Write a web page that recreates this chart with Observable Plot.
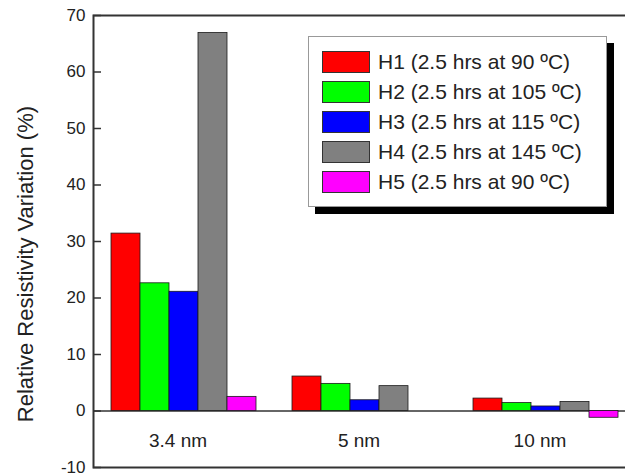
<!DOCTYPE html>
<html>
<head>
<meta charset="utf-8">
<script src="https://cdn.jsdelivr.net/npm/d3@7"></script>
<script src="https://cdn.jsdelivr.net/npm/@observablehq/plot@0.6"></script>
<style>
  html, body { margin: 0; padding: 0; background: #fff; overflow: hidden; width: 625px; height: 476px; }
  #wrap { position: relative; width: 625px; height: 476px; overflow: hidden; font-family: "Liberation Sans", Arial, sans-serif; }
  #legend { position: absolute; left: 308px; top: 36px; width: 297px; height: 169px; border: 1px solid #999; background: #fff; box-shadow: 7px 7px 0 #000; }
  .row { position: absolute; left: 13px; height: 22px; display: flex; align-items: center; }
  .sw { width: 46px; height: 20px; border: 1px solid #333; margin-right: 8px; }
  .lab { font-size: 21px; color: #222; white-space: nowrap; line-height: 22px; }
</style>
</head>
<body>
<div id="wrap"><div id="chart"></div><div id="legend"></div></div>
<script>
const sizes = ["3.4 nm", "5 nm", "10 nm"];
const keys = ["H1", "H2", "H3", "H4", "H5"];
const labels = [
  "H1 (2.5 hrs at 90 ºC)",
  "H2 (2.5 hrs at 105 ºC)",
  "H3 (2.5 hrs at 115 ºC)",
  "H4 (2.5 hrs at 145 ºC)",
  "H5 (2.5 hrs at 90 ºC)"
];
const colors = ["#ff0000", "#00ff00", "#0000ff", "#808080", "#ff00ff"];
const H1 = [31.4, 6.1, 2.2];
const H2 = [22.6, 4.8, 1.4];
const H3 = [21.1, 1.9, 0.8];
const H4 = [66.9, 4.4, 1.6];
const H5 = [2.5, 0, -1.2];
const yTicks = [-10, 0, 10, 20, 30, 40, 50, 60, 70];
const yTitle = "Relative Resistivity Variation (%)";

const seriesValues = [H1, H2, H3, H4, H5];
const data = [];
sizes.forEach((s, i) => keys.forEach((k, j) => data.push({size: s, key: k, value: seriesValues[j][i]})));

const chart = Plot.plot({
  width: 640,
  height: 476,
  marginLeft: 93,
  marginRight: 4,
  marginTop: 15,
  marginBottom: 9,
  style: {fontFamily: "'Liberation Sans', Arial, sans-serif", maxWidth: "none", background: "#fff", color: "#222"},
  fx: {domain: sizes, padding: 0, axis: null},
  x: {domain: keys, paddingInner: 0, paddingOuter: 0.62, axis: null},
  y: {domain: [-10, 70], axis: null},
  color: {domain: keys, range: colors},
  marks: [
    Plot.ruleY([0], {stroke: "#333", strokeWidth: 1.5}),
    Plot.barY(data, {fx: "size", x: "key", y: "value", fill: "key", stroke: "#1a1a1a", strokeWidth: 0.8}),
    Plot.frame({facet: "super", stroke: "#333", strokeWidth: 2}),
    Plot.axisY({anchor: "left", ticks: yTicks, tickSize: 8, dx: 8, tickFormat: () => "", stroke: "#333", strokeWidth: 1.5, label: null}),
    Plot.axisY({anchor: "left", ticks: yTicks, tickSize: 0, tickPadding: 8, tickFormat: d => String(d), fontSize: 17, fill: "#222", label: null}),
    Plot.text(sizes, {fx: d => d, y: -5.3, text: d => d, fontSize: 19, dx: -6, fill: "#222"}),
    Plot.text([yTitle], {fx: () => sizes[0], frameAnchor: "left", textAnchor: "middle", y: 26, rotate: -90, dx: -68, fontSize: 22, fill: "#222"})
  ]
});
document.getElementById("chart").appendChild(chart);

const legend = document.getElementById("legend");
labels.forEach((t, i) => {
  const row = document.createElement("div");
  row.className = "row";
  row.style.top = (14 + i * 30) + "px";
  const sw = document.createElement("div");
  sw.className = "sw";
  sw.style.background = colors[i];
  const lab = document.createElement("span");
  lab.className = "lab";
  lab.textContent = t;
  row.appendChild(sw);
  row.appendChild(lab);
  legend.appendChild(row);
});
</script>
</body>
</html>
